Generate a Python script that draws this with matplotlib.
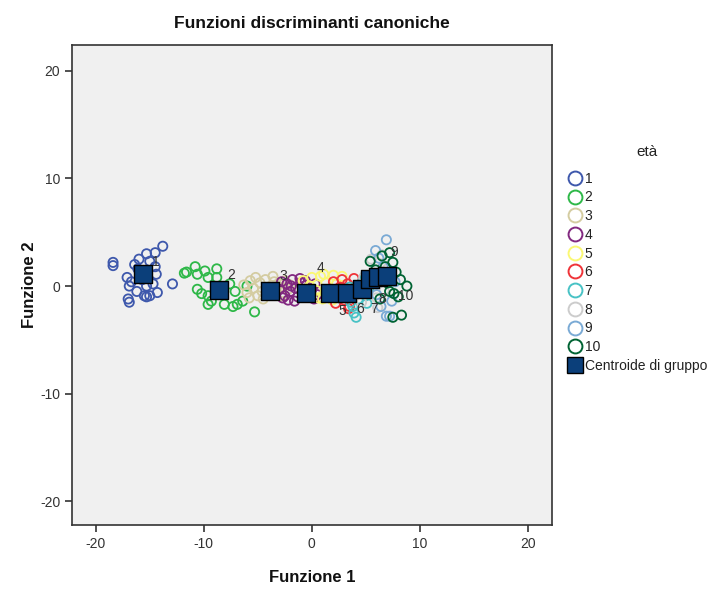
import matplotlib
matplotlib.use("Agg")
import matplotlib.pyplot as plt
from matplotlib.lines import Line2D

plt.rcParams['font.family'] = ['Liberation Sans', 'DejaVu Sans']
plt.rcParams['axes.unicode_minus'] = False

# Discriminant scores (Funzione 1, Funzione 2) per age group
groups = ["1", "2", "3", "4", "5", "6", "7", "8", "9", "10"]
colors = ["#3E58AC", "#2EB848", "#D4CCA1", "#822980", "#FBF873",
          "#EF3338", "#48C2C5", "#CCCCCC", "#7AAAD5", "#006333"]

x1 = [-18.4, -18.4, -13.8, -14.5, -15.3, -16.0, -16.4, -15.0, -14.4, -14.5, -17.1, -16.9,
      -16.2, -15.5, -15.0, -14.3, -17.0, -16.9, -12.9, -15.3, -15.7, -16.1, -14.7, -16.7, -15.3]
y1 = [2.2, 1.9, 3.7, 3.1, 3.0, 2.5, 2.0, 2.3, 1.1, 1.8, 0.8, 0.0,
      -0.5, -0.9, -0.9, -0.6, -1.2, -1.5, 0.2, 0.0, 0.6, 1.6, 0.2, 0.4, -1.0]
x2 = [-11.6, -10.8, -10.6, -9.9, -9.6, -8.8, -8.8, -10.6, -10.2, -9.6, -9.3, -9.6,
      -8.1, -7.1, -6.9, -6.4, -6.0, -7.3, -7.6, -5.3, -11.8]
y2 = [1.3, 1.8, 1.1, 1.4, 0.8, 1.6, 0.8, -0.3, -0.7, -0.9, -1.4, -1.7,
      -1.7, -0.5, -1.7, -1.4, 0.0, -1.9, 0.2, -2.4, 1.2]
x3 = [-6.3, -6.0, -5.7, -5.4, -5.2, -5.0, -4.8, -4.6, -4.3, -4.0, -3.8, -3.5,
      -3.3, -3.0, -2.8, -2.5, -2.2, -2.0, -5.8, -4.5, -3.6, -2.7]
y3 = [0.1, -0.6, 0.5, -0.2, 0.8, -0.9, 0.3, -0.5, 0.6, -0.1, -0.8, 0.4,
      -0.4, 0.2, -0.9, 0.5, -0.3, 0.1, -1.1, -1.2, 0.9, -0.6]
x4 = [-3.0, -2.8, -2.5, -2.3, -2.0, -1.8, -1.5, -1.3, -1.0, -0.8, -0.5, -0.3,
      0.0, 0.3, 0.5, -2.2, -1.6, -1.1, -0.6, -2.7, 0.2, -1.9]
y4 = [-0.3, 0.4, -0.9, 0.2, -0.5, 0.6, -0.2, -1.0, 0.3, -0.6, 0.1, -0.9,
      -0.3, 0.2, -0.8, -1.3, -1.4, 0.7, 0.5, -1.1, -1.2, 0.0]
x5 = [-0.8, -0.4, 0.0, 0.4, 0.8, 1.0, 1.3, 1.6, 2.0, 2.3, 2.6, 0.6, 1.9, -0.2, 1.1, 2.8]
y5 = [0.5, -0.8, 0.8, -0.4, 0.9, -1.2, 0.3, -0.6, 1.0, 0.2, -0.3, -1.1, -1.3, 0.0, 1.1, 0.9]
x6 = [1.6, 2.0, 2.4, 2.8, 3.0, 3.3, 3.6, 3.9, 4.2, 2.2, 3.4, 2.6, 3.8, 1.9, 3.5]
y6 = [-0.3, 0.4, -0.9, 0.6, -1.3, 0.2, -0.5, 0.7, -0.2, -1.6, -2.1, -0.1, -1.0, -1.0, -1.9]
x7 = [3.2, 3.6, 3.9, 4.1, 4.4, 4.7, 5.0, 5.3, 5.6, 3.8, 4.3, 5.1, 4.9, 3.5]
y7 = [-0.8, -1.5, -2.5, -2.9, -0.3, 0.4, -0.9, -0.2, 0.6, -1.9, -1.2, -1.6, 0.9, -0.1]
x8 = [4.6, 5.0, 5.3, 5.7, 6.0, 6.3, 6.7, 7.0, 5.5, 6.5, 4.8, 6.1]
y8 = [-1.5, -0.6, 0.3, 1.2, -1.1, 0.5, -0.4, 1.6, 2.5, 2.9, 0.8, -2.0]
x9 = [5.9, 6.9, 6.2, 6.6, 7.1, 5.6, 6.0, 7.4, 6.9, 7.2, 5.3, 6.4, 7.7]
y9 = [3.3, 4.3, 2.6, 1.8, 0.9, 1.0, -0.8, -1.4, -2.8, -2.8, 0.2, -1.9, 0.4]
x10 = [5.4, 6.5, 7.2, 7.5, 7.8, 7.2, 7.6, 8.0, 7.5, 8.3, 8.8, 6.8, 5.9, 7.0, 8.2, 6.3]
y10 = [2.3, 2.8, 3.1, 2.2, 1.3, -0.5, -0.7, -1.0, -2.9, -2.7, 0.0, 1.8, 1.5, 0.3, 0.6, -1.2]

xs = [x1, x2, x3, x4, x5, x6, x7, x8, x9, x10]
ys = [y1, y2, y3, y4, y5, y6, y7, y8, y9, y10]

# Group centroids
cent_x = [-15.6, -8.6, -3.9, -0.5, 1.7, 3.3, 4.6, 5.4, 6.1, 7.0]
cent_y = [1.1, -0.4, -0.5, -0.6, -0.6, -0.6, -0.3, 0.7, 0.8, 0.9]

# label offsets (points) for the centroid numbers
lab_dx = [9, 9, 10, 10, 9, 9, 9, 9, 12, 13]
lab_dy = [9, 11, 11, 18, -13, -12, -14, -15, 18, -14]

xticks = [-20, -10, 0, 10, 20]
yticks = [-20, -10, 0, 10, 20]

fig = plt.figure(figsize=(7.23, 5.89), dpi=100)
ax = fig.add_axes([0.0996, 0.1087, 0.6634, 0.8149])
ax.set_facecolor("#F0F0F0")

for gx, gy, c in zip(xs, ys, colors):
    ax.scatter(gx, gy, s=44, facecolors="none", edgecolors=c, linewidths=1.3, zorder=2)

ax.scatter(cent_x, cent_y, s=160, marker="s", facecolor="#0B3F7A",
           edgecolor="black", linewidths=1.0, zorder=4)

for i, g in enumerate(groups):
    ax.annotate(g, (cent_x[i], cent_y[i]), xytext=(lab_dx[i], lab_dy[i]),
                textcoords="offset points", ha="center", va="center",
                fontsize=10, color="#333333", zorder=5)

ax.set_xlim(-22.2, 22.2)
ax.set_ylim(-22.2, 22.4)
ax.set_xticks(xticks)
ax.set_yticks(yticks)
ax.tick_params(direction="out", length=5, width=1.2, color="#333333",
               labelcolor="#333333", labelsize=10)
for sp in ax.spines.values():
    sp.set_color("#333333")
    sp.set_linewidth(1.2)

ax.set_title("Funzioni discriminanti canoniche", fontsize=12.5, fontweight="bold",
             color="#111111", pad=12)
ax.set_xlabel("Funzione 1", fontsize=12, fontweight="bold", color="#111111", labelpad=14)
ax.set_ylabel("Funzione 2", fontsize=12, fontweight="bold", color="#111111")
ax.yaxis.set_label_coords(-0.074, 0.5)

handles = [Line2D([], [], linestyle="none", marker="o", markersize=10,
                  markerfacecolor="none", markeredgecolor=c, markeredgewidth=1.4)
           for c in colors]
handles.append(Line2D([], [], linestyle="none", marker="s", markersize=11,
                      markerfacecolor="#0B3F7A", markeredgecolor="black", markeredgewidth=1))
labels = groups + ["Centroide di gruppo"]
leg = fig.legend(handles, labels, loc="upper left",
                 bbox_to_anchor=(0.776, 0.718), frameon=False, fontsize=10,
                 handletextpad=0.1, labelspacing=0.34,
                 handlelength=1.2, borderaxespad=0)
for t in leg.get_texts():
    t.set_color("#222222")
fig.text(647 / 723, 1 - 152 / 589, "età", fontsize=11, color="#222222",
         ha="center", va="center")

fig.savefig("out.png", dpi=100)
